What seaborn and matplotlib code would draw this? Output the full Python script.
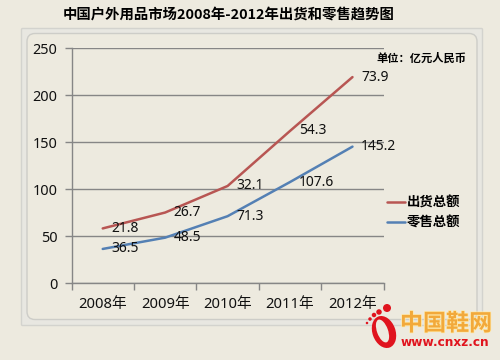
import numpy as np
import pandas as pd
import matplotlib
matplotlib.use("Agg")
import matplotlib.pyplot as plt
import seaborn as sns
from matplotlib.patches import FancyBboxPatch, Ellipse
import matplotlib.patheffects as pe

years = ["2008年", "2009年", "2010年", "2011年", "2012年"]
retail = [36.5, 48.5, 71.3, 107.6, 145.2]
shipment = [21.8, 26.7, 32.1, 54.3, 73.9]
series_names = ["出货总额", "零售总额"]
title = "中国户外用品市场2008年-2012年出货和零售趋势图"
unit = "单位：亿元人民币"
yticks = [0, 50, 100, 150, 200, 250]

# the chart is a stacked line chart: the upper line sits on the lower one
stacked = list(np.add(retail, shipment))

BG = "#EDEADF"
AX = "#868686"
RED = "#B85653"
BLUE = "#5480B4"
INK = "#111111"
CJK = ["Noto Sans CJK SC", "DejaVu Sans"]
LAT = ["Noto Sans", "Noto Sans CJK SC"]

sns.set_theme(style="white")
plt.rcParams["font.family"] = LAT

df = pd.DataFrame({
    "year": years * 2,
    "value": stacked + retail,
    "series": [series_names[0]] * 5 + [series_names[1]] * 5,
})

fig = plt.figure(figsize=(5, 3.6), dpi=100, facecolor=BG)

# decorative frame, drawn in pixel coordinates
bg = fig.add_axes([0, 0, 1, 1], zorder=0)
bg.set_xlim(0, 500); bg.set_ylim(360, 0); bg.axis("off")
bg.add_patch(FancyBboxPatch((21.5, 28.5), 461, 297, boxstyle="round,pad=0,rounding_size=1",
                            fc="#E8E7E1", ec="#D3D3CE", lw=1))
bg.add_patch(FancyBboxPatch((27, 33.5), 450, 286, boxstyle="round,pad=0,rounding_size=8",
                            fc=BG, ec="#CDCDC8", lw=1))

ax = fig.add_axes([71.5 / 500, (360 - 283.3) / 360, 312.2 / 500, 235.3 / 360], zorder=1)
ax.set_facecolor("none")
sns.lineplot(data=df, x="year", y="value", hue="series", hue_order=series_names,
             palette=[RED, BLUE], linewidth=1.8, sort=False, ax=ax, legend=True)
ax.set_xlim(-0.5, 4.5)
ax.set_ylim(0, 250)
ax.set_xlabel(""); ax.set_ylabel("")
ax.set_yticks(yticks)
ax.yaxis.grid(True, color=AX, lw=1)
ax.xaxis.grid(False)
ax.set_axisbelow(True)
for s in ["top", "right"]:
    ax.spines[s].set_visible(False)
for s in ["left", "bottom"]:
    ax.spines[s].set_color(AX); ax.spines[s].set_linewidth(1)
ax.tick_params(axis="y", which="major", length=5, width=1, color=AX, left=True, pad=5,
               labelsize=10.4, labelcolor=INK)
ax.set_xticks(np.arange(-0.5, 5), minor=True)
ax.tick_params(axis="x", which="minor", length=5, width=1, color=AX, bottom=True)
ax.tick_params(axis="x", which="major", length=0, pad=10, labelsize=10.6, labelcolor=INK)
for t in ax.get_xticklabels():
    t.set_fontfamily(LAT)

for i in range(5):
    ax.annotate(f"{shipment[i]}", (i, stacked[i]), xytext=(6.2, 0), textcoords="offset points",
                ha="left", va="center", fontsize=10, color=INK)
    ax.annotate(f"{retail[i]}", (i, retail[i]), xytext=(6.2, 0), textcoords="offset points",
                ha="left", va="center", fontsize=10, color=INK)

handles, labels = ax.get_legend_handles_labels()
leg = ax.legend(handles, labels, loc="center left", bbox_to_anchor=(386.5 / 500, (360 - 212.5) / 360),
                bbox_transform=fig.transFigure, frameon=False, borderpad=0, borderaxespad=0,
                handlelength=1.35, handletextpad=0.15, labelspacing=0.42,
                prop={"family": CJK, "weight": "bold", "size": 9.6})
for t in leg.get_texts():
    t.set_color("#000000")

fig.text(63 / 500, 1 - 14.5 / 360, title, family=CJK, weight="bold", fontsize=10.35,
         color="#000000", ha="left", va="center")
fig.text(376.5 / 500, 1 - 58 / 360, unit, family=CJK, weight="bold", fontsize=8.1,
         color="#000000", ha="left", va="center")

# watermark logo, on top of everything
ov = fig.add_axes([0, 0, 1, 1], zorder=3)
ov.set_xlim(0, 500); ov.set_ylim(360, 0); ov.axis("off"); ov.patch.set_alpha(0)
LOGO = "#E0141E"
ov.add_patch(Ellipse((384, 332), 23, 33, angle=-20, fc=LOGO, ec="none"))
ov.add_patch(Ellipse((382.5, 331), 11, 24, angle=-20, fc=BG, ec="none"))
for (x, y, r) in [(387, 308, 8), (379, 312, 5.5), (374, 315, 4.5), (370, 319, 3.5), (367, 323, 2.5)]:
    ov.add_patch(Ellipse((x, y), r, r, fc=LOGO, ec="none"))
ov.text(400, 324, "中国鞋网", family=CJK, weight="bold", fontsize=16.6, color="#F2A93B",
        ha="left", va="center",
        path_effects=[pe.withStroke(linewidth=1, foreground="#FFE9A8")])
ov.text(401, 342, "www.cnxz.cn", family=["DejaVu Sans"], weight="bold", fontsize=8.7, color=LOGO,
        ha="left", va="center")

fig.savefig("out.png", dpi=100, facecolor=BG)
